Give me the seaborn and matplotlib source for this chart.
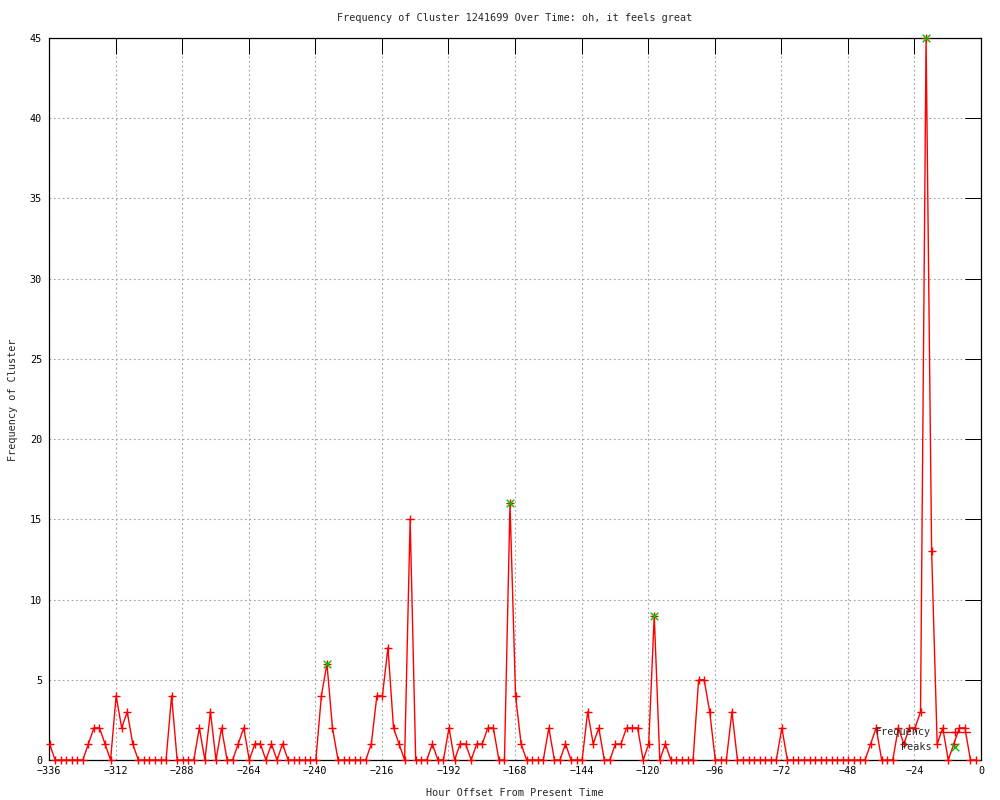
import numpy as np
import pandas as pd
import matplotlib
matplotlib.use("Agg")
import matplotlib.pyplot as plt
import seaborn as sns

# ---- data ----
first_hour = -335.8
hour_step = 2.0
frequency = [
    1, 0, 0, 0, 0, 0, 0, 1, 2, 2, 1, 0, 4, 2, 3, 1, 0, 0, 0, 0,
    0, 0, 4, 0, 0, 0, 0, 2, 0, 3, 0, 2, 0, 0, 1, 2, 0, 1, 1, 0,
    1, 0, 1, 0, 0, 0, 0, 0, 0, 4, 6, 2, 0, 0, 0, 0, 0, 0, 1, 4,
    4, 7, 2, 1, 0, 15, 0, 0, 0, 1, 0, 0, 2, 0, 1, 1, 0, 1, 1, 2,
    2, 0, 0, 16, 4, 1, 0, 0, 0, 0, 2, 0, 0, 1, 0, 0, 0, 3, 1, 2,
    0, 0, 1, 1, 2, 2, 2, 0, 1, 9, 0, 1, 0, 0, 0, 0, 0, 5, 5, 3,
    0, 0, 0, 3, 0, 0, 0, 0, 0, 0, 0, 0, 2, 0, 0, 0, 0, 0, 0, 0,
    0, 0, 0, 0, 0, 0, 0, 0, 1, 2, 0, 0, 0, 2, 1, 2, 2, 3, 45, 13,
    1, 2, 0, 1, 2, 2, 0, 0,
]
peak_index = [50, 83, 109, 158]
peak_values = [6, 16, 9, 45]
x_ticks = list(range(-336, 1, 24))
y_ticks = list(range(0, 46, 5))
title = "Frequency of Cluster 1241699 Over Time: oh, it feels great"
x_label = "Hour Offset From Present Time"
y_label = "Frequency of Cluster"

hours = first_hour + hour_step * np.arange(len(frequency))
df = pd.DataFrame({"hour": hours, "freq": frequency})
peaks = pd.DataFrame({"hour": hours[peak_index], "freq": peak_values})

# ---- style ----
sns.set_theme(style="white")
plt.rcParams["font.family"] = ["DejaVu Sans Mono", "DejaVu Sans"]
FS = 7.3

fig = plt.figure(figsize=(10, 8), dpi=100)
ax = fig.add_axes([0.049, 0.05, 0.932, 0.9025])

ax.grid(True, color="#a0a0a0", linestyle=(0, (1.5, 2.5)), linewidth=0.8)
ax.set_axisbelow(True)

sns.lineplot(data=df, x="hour", y="freq", ax=ax, color="#ff0000", linewidth=1,
             marker="+", markersize=6, markeredgewidth=1, markeredgecolor="#ff0000",
             label="Frequency", clip_on=False, zorder=3)
sns.scatterplot(data=peaks, x="hour", y="freq", ax=ax, marker="x", color="#00c000",
                s=30, linewidth=1, label="Peaks", clip_on=False, zorder=4)

ax.set_xlim(-336, 0)
ax.set_ylim(0, 45)
ax.set_xticks(x_ticks)
ax.set_yticks(y_ticks)
ax.tick_params(direction="in", length=11.5, width=0.72, top=True, right=True,
               labelsize=FS, colors="black", pad=4)
ax.tick_params(axis="y", pad=5)
for s in ax.spines.values():
    s.set_color("black")
    s.set_linewidth(0.9)
ax.set_xlabel("")
ax.set_ylabel("")

fig.text(0.515, 1 - 18 / 800, title, ha="center", va="center", fontsize=FS)
fig.text(0.515, 1 - 793 / 800, x_label, ha="center", va="center", fontsize=FS)
fig.text(0.013, 1 - 400 / 800, y_label, ha="center", va="center", fontsize=FS,
         rotation=90)

leg = ax.legend(loc="lower right", bbox_to_anchor=(0.9934, 0.0042), frameon=False,
                markerfirst=False, handlelength=3.0, handletextpad=0.8,
                labelspacing=0.45, borderpad=0, fontsize=FS)

fig.savefig("out.png", dpi=100)
